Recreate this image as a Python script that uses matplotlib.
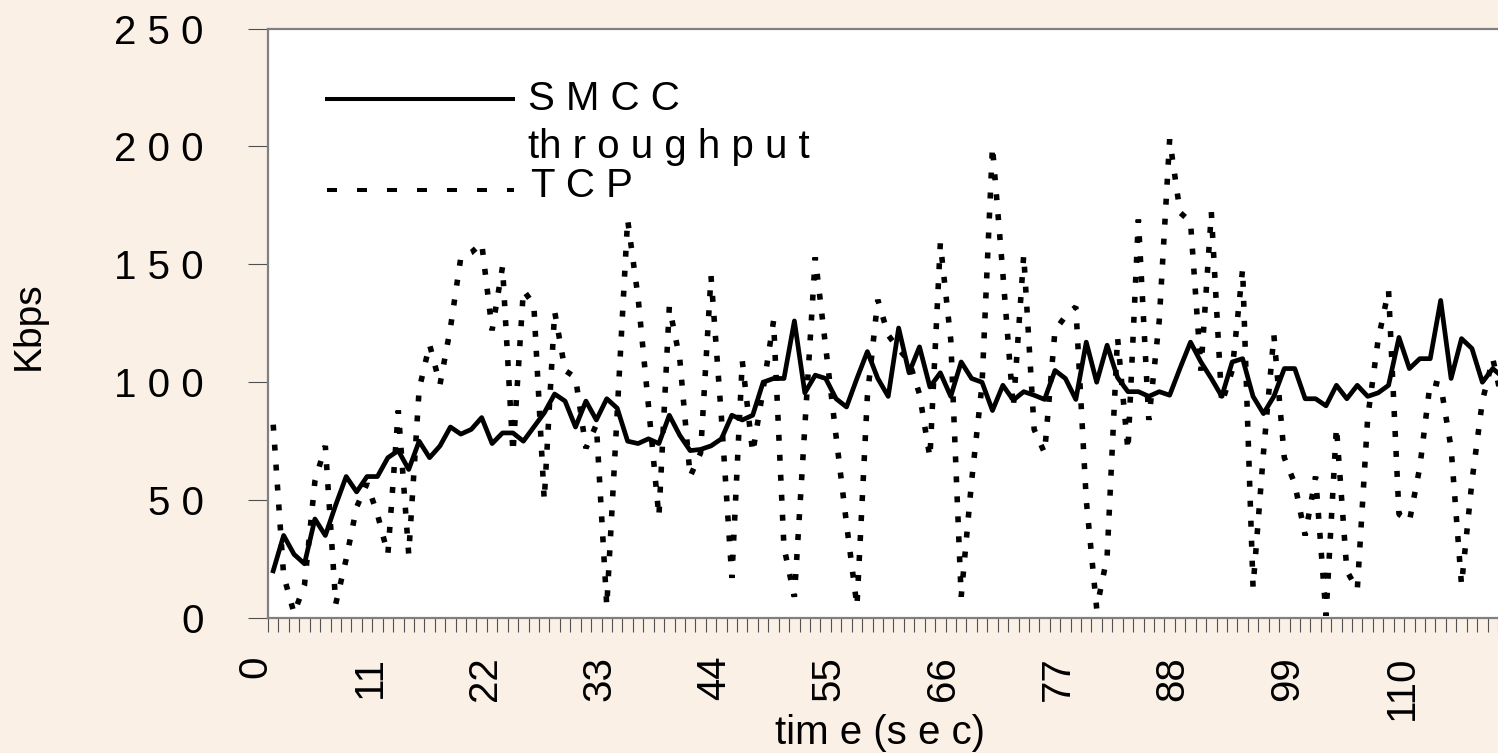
import numpy as np
import matplotlib
matplotlib.use("Agg")
import matplotlib.pyplot as plt
from matplotlib import transforms

plt.rcParams['font.family'] = ['Liberation Sans', 'DejaVu Sans']
plt.rcParams['lines.scale_dashes'] = False

# throughput per second (Kbps)
smcc = [20, 35, 27, 23, 42, 35, 48, 60, 53.5, 60,
        60, 68, 71, 63, 75, 68, 73, 81, 78, 80,
        85, 74, 78.5, 78.5, 75, 81, 87, 95, 92, 81,
        92, 84, 93, 89, 75, 74, 76, 74, 86, 77.5,
        71, 71.5, 73, 76, 86, 84, 86, 100, 101.6, 101.6,
        126, 95.5, 103, 101.6, 93, 89.5, 101.6, 113, 101.6, 94,
        123, 104, 115, 98, 104, 94, 108.6, 101.6, 100, 88,
        98.7, 92.4, 96, 94.5, 92.7, 105, 101.6, 92.7, 117, 100,
        115.7, 102, 96, 96, 94, 96, 94.5, 106, 117, 108.6,
        101.6, 94, 108.6, 110, 94, 86.7, 94, 105.8, 105.8, 93,
        93, 90, 98.7, 93, 98.7, 94, 95.5, 98.7, 119, 105.8,
        110, 110, 134.7, 101.6, 118.5, 114.3, 100, 105.8, 102]

tcp = [82, 18, 2, 14, 58, 73, 6, 25, 47, 57,
       44, 27, 88, 27, 97, 116, 99, 123, 153, 155,
       159, 122, 149, 70, 139, 133, 50, 130, 105, 102,
       72, 82, 5, 87, 169, 136, 90, 43, 132, 110,
       60, 70, 145, 85, 17, 109, 70, 97, 126, 30,
       9, 81, 153, 115, 77, 40, 5, 94, 135, 120,
       114, 109, 95, 68, 159, 118, 9, 58, 99, 200,
       146, 89, 154, 80, 70, 122, 128, 132, 50, 4,
       26, 119, 71, 169, 84, 126, 203, 172, 168, 105,
       172, 91, 105, 148, 13, 70, 120, 68, 57, 35,
       60, 1, 81, 20, 12, 85, 118, 139, 44, 41,
       64, 100, 99, 72, 14, 58, 92, 110, 90]

tick_secs = [0, 11, 22, 33, 44, 55, 66, 77, 88, 99, 110]
ytick_vals = [0, 50, 100, 150, 200, 250]
ytick_labels = ["0", "5 0", "1 0 0", "1 5 0", "2 0 0", "2 5 0"]

W, H = 1498, 753
FS = 29
fig = plt.figure(figsize=(W / 100, H / 100), dpi=100, facecolor='#FAF0E6')
ax = fig.add_axes([268 / W, 1 - 618 / H, 1230 / W, 589.4 / H])
ax.set_facecolor('white')

t = np.arange(len(smcc))
ax.plot(t, tcp, color='black', lw=4.0, linestyle=(0, (4.3, 10.1)),
        dash_capstyle='butt', dash_joinstyle='bevel')
ax.plot(t, smcc, color='black', lw=3.4, solid_joinstyle='round')

ax.set_xlim(-0.5, -0.5 + 1230 / 10.436)
ax.set_ylim(0, 250)

for side in ['left', 'top', 'bottom']:
    ax.spines[side].set_color('#808080')
    ax.spines[side].set_linewidth(1.6)
ax.spines['right'].set_visible(False)

ax.set_xticks(np.arange(-0.5, 118, 1))
ax.set_xticklabels([])
ax.tick_params(axis='x', direction='out', length=10, width=0.8, color='#505050')

ax.set_yticks(ytick_vals)
ax.set_yticklabels(ytick_labels)
ax.tick_params(axis='y', direction='out', length=14.4, width=0.8,
               color='#505050', pad=31.7, labelsize=FS)

trans = transforms.blended_transform_factory(ax.transData, ax.transAxes)
for s in tick_secs:
    ax.text(s - 1.72, -38 / 589.4, str(s), rotation=90, ha='center', va='top',
            transform=trans, fontsize=FS, clip_on=False)

# legend drawn by hand (text wraps like the original)
def ax_pt(px, py):
    return (px - 268) / 1230, (618 - py) / 589.4

x0, y0 = ax_pt(325, 99)
x1, _ = ax_pt(515, 99)
ax.plot([x0, x1], [y0, y0], color='black', lw=2.9, transform=ax.transAxes,
        solid_capstyle='butt')
x0, y0 = ax_pt(327, 190)
x1, _ = ax_pt(514, 190)
ax.plot([x0, x1], [y0, y0], color='black', lw=2.9, transform=ax.transAxes,
        linestyle=(0, (7.2, 14.4)), dash_capstyle='butt')

tx, ty = ax_pt(528, 110)
ax.text(tx, ty, "S M C C", transform=ax.transAxes, fontsize=FS, va='baseline')
tx, ty = ax_pt(528, 158)
ax.text(tx, ty, "th r o u g h p u t", transform=ax.transAxes, fontsize=FS,
        va='baseline')
tx, ty = ax_pt(531, 197)
ax.text(tx, ty, "T C P", transform=ax.transAxes, fontsize=FS, va='baseline')

fig.text(29 / W, 1 - 326 / H, "Kbps", rotation=90, ha='center', va='center',
         fontsize=28)
fig.text(880 / W, 1 - 733 / H, "tim e (s e c)", ha='center', va='center',
         fontsize=FS)

fig.savefig("out.png", dpi=100, facecolor=fig.get_facecolor())
